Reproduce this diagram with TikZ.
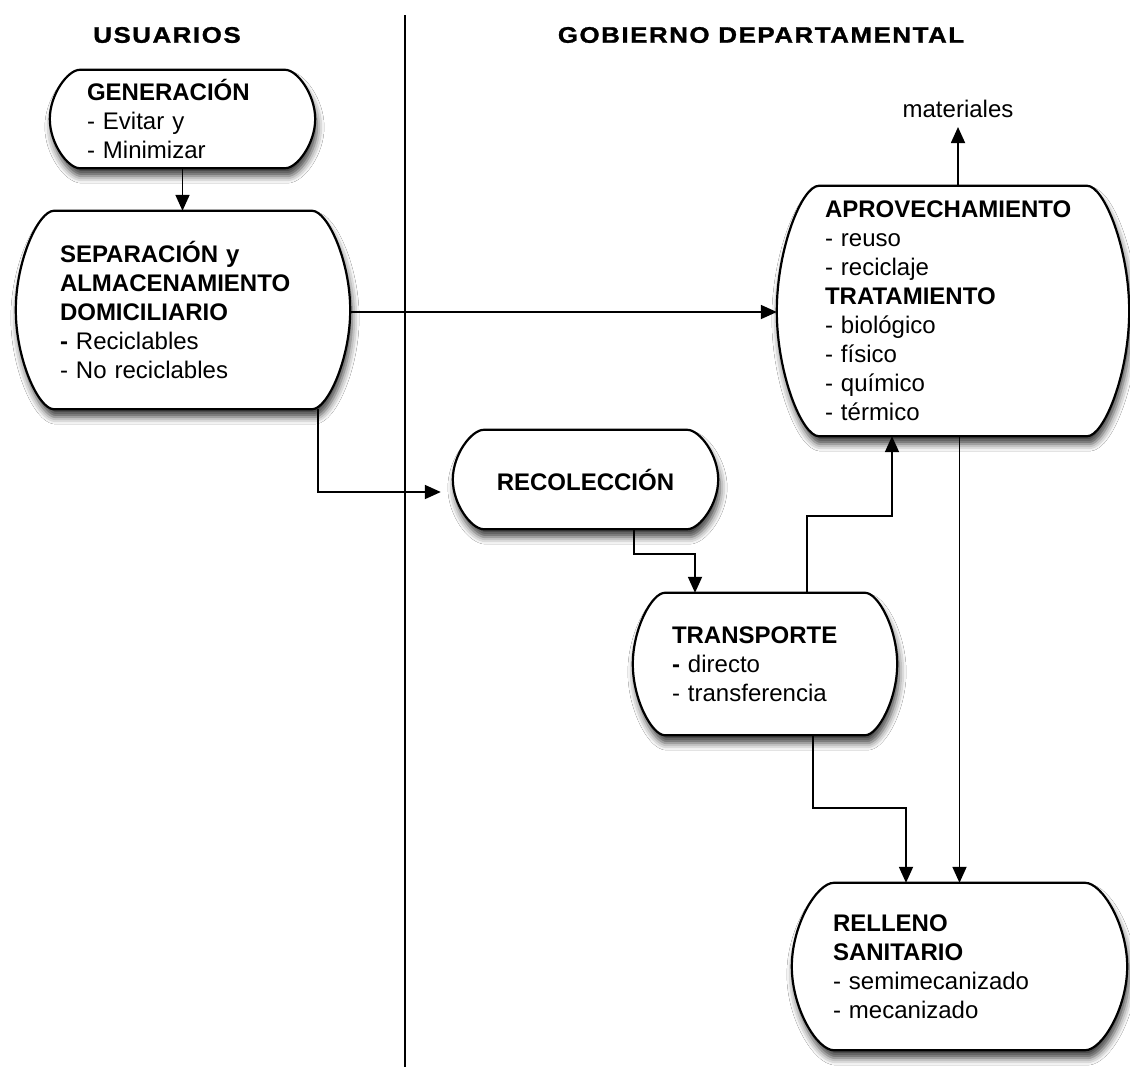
\documentclass[tikz,border=0pt]{standalone}
\usepackage{fontspec}
\setmainfont{Liberation Sans}
\newfontfamily\hdrfont[LetterSpace=6,FakeBold=1.2]{Liberation Sans}
\usetikzlibrary{arrows.meta,calc,backgrounds,shadows.blur}

\tikzset{
  box/.style={draw=none, inner sep=0pt, font=\fontsize{24}{29}\selectfont, align=left},
  outl/.style={draw=black, line width=2.2pt, fill=white,
    blur shadow={shadow xshift=2pt, shadow yshift=-8pt, shadow blur radius=7pt, shadow opacity=75}},
  arr/.style={line width=1.8pt, -{Triangle[length=16pt,width=14pt]}},
  hdr/.style={font=\hdrfont\bfseries\fontsize{22.5}{26}\selectfont, inner sep=0pt},
  lbl/.style={font=\fontsize{24}{29}\selectfont, inner sep=0pt}
}

\newcommand\pillOutline[2]{%
  \path[outl] let \p1=(#1.north west), \p2=(#1.south east), \p3=(#1.east) in
    ({\x1+#2pt},\y1) -- ({\x2-#2pt},\y1)
    .. controls ({\x2-0.6*#2pt},\y1) and (\x2,{\y3+0.5*(\y1-\y3)}) .. (\x2,\y3)
    .. controls (\x2,{\y3-0.5*(\y1-\y3)}) and ({\x2-0.6*#2pt},\y2) .. ({\x2-#2pt},\y2)
    -- ({\x1+#2pt},\y2)
    .. controls ({\x1+0.6*#2pt},\y2) and (\x1,{\y3-0.5*(\y1-\y3)}) .. (\x1,\y3)
    .. controls (\x1,{\y3+0.5*(\y1-\y3)}) and ({\x1+0.6*#2pt},\y1) .. cycle;
}

\begin{document}
\begin{tikzpicture}[x=1pt,y=-1pt]
\useasboundingbox (0,0) rectangle (1130,1069);

% headers
\node[hdr] (husu) at (167,35) {\scalebox{1.15}[1]{USUARIOS}};
\node[hdr] (hgob) at (761,35) {\scalebox{1.15}[1]{GOBIERNO DEPARTAMENTAL}};

% divider
\coordinate (dtop) at (405,15);
\coordinate (dbot) at (405,1067);
\draw[line width=1.5pt] (dtop) -- (dbot);

% boxes
\node[box, minimum width=265pt, minimum height=98pt, text width=191pt] (gen) at (182.5,119)
  {\textbf{GENERACIÓN}\\- Evitar y\\- Minimizar};
\node[box, minimum width=334pt, minimum height=198pt, text width=246pt] (sep) at (183,310)
  {\textbf{SEPARACIÓN y}\\\textbf{ALMACENAMIENTO}\\\textbf{DOMICILIARIO}\\\textbf{-} Reciclables\\- No reciclables};
\node[box, minimum width=352pt, minimum height=250pt, text width=256pt] (apro) at (953,311)
  {\textbf{APROVECHAMIENTO}\\- reuso\\- reciclaje\\\textbf{TRATAMIENTO}\\- biológico\\- físico\\- químico\\- térmico};
\node[box, align=center, minimum width=265pt, minimum height=99pt] (recol) at (585.5,479.5)
  {\textbf{RECOLECCIÓN}};
\node[box, minimum width=264pt, minimum height=142pt, text width=186pt] (trans) at (765,664)
  {\textbf{TRANSPORTE}\\\textbf{-} directo\\- transferencia};
\node[box, minimum width=335pt, minimum height=167pt, text width=253pt] (relleno) at (959.5,966.5)
  {\textbf{RELLENO}\\\textbf{SANITARIO}\\- semimecanizado\\- mecanizado};
\node[lbl] (mat) at (958,109) {materiales};

\begin{scope}[on background layer]
  \fill[white] (0,0) rectangle (1130,1069);
  \pillOutline{gen}{30}
  \pillOutline{sep}{38}
  \pillOutline{apro}{42}
  \pillOutline{recol}{31}
  \pillOutline{trans}{32}
  \pillOutline{relleno}{42}
\end{scope}

% connectors
\draw[arr] (gen.south) -- (gen.south |- sep.north);
\draw[arr] ([yshift=-2pt]sep.east) -- ([yshift=-2pt]sep.east -| apro.west);
\draw[arr, shorten >=12pt] ([xshift=135pt]sep.south) |- ([yshift=-12.5pt]recol.west);
\draw[arr] ([xshift=48.5pt]recol.south) -- ++(0,25) -| ([xshift=-70pt]trans.north);
\draw[arr] ([xshift=42pt]trans.north) -- ++(0,-77) -| ([xshift=-61pt]apro.south);
\draw[arr] ([xshift=48pt]trans.south) -- ++(0,73) -| ([xshift=-53.5pt]relleno.north);
\draw[arr] (relleno.north |- apro.south) -- (relleno.north);
\draw[arr, shorten >=9pt] (mat.south |- apro.north) -- (mat.south);
\end{tikzpicture}
\end{document}
